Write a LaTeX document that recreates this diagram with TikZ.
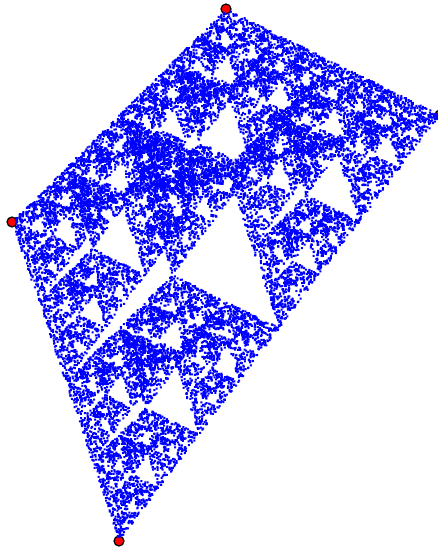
\documentclass[tikz,border=0pt]{standalone}
\newcount\seedval
\newcount\pick
\begin{document}
\begin{tikzpicture}[x=1pt, y=-1pt]
	\useasboundingbox (0,0) rectangle (438,552);
	\tikzset{corner/.style={circle, draw=black, fill=red, line width=1.2pt, minimum size=10pt, inner sep=0pt}}
	\node[corner] (top) at (226,9) {};
	\node[corner] (right) at (440,115) {};
	\node[corner] (left) at (12,222) {};
	\node[corner] (bottom) at (119,541) {};
	\global\seedval=4021
	\xdef\px{226}
	\xdef\py{9}
	\pgfsetfillcolor{blue}
	\foreach \j in {1,...,24} {
		\foreach \i in {1,...,1000} {
			\global\seedval=\numexpr \seedval*75+74 - 65537*((\seedval*75+74-32768)/65537)\relax
			\pick=\numexpr (4*\seedval-32768)/65537\relax
			\ifcase\pick
				\def\qx{226}\def\qy{9}\or
				\def\qx{440}\def\qy{115}\or
				\def\qx{12}\def\qy{222}\or
				\def\qx{119}\def\qy{541}\fi
			\pgfmathsetmacro{\nx}{(\px+\qx)/2}
			\pgfmathsetmacro{\ny}{(\py+\qy)/2}
			\xdef\px{\nx}
			\xdef\py{\ny}
			\pgfpathrectangle{\pgfpointxy{\px-1}{\py-1}}{\pgfqpoint{2pt}{-2pt}}
		}
		\pgfusepath{fill}
	}
\end{tikzpicture}
\end{document}
